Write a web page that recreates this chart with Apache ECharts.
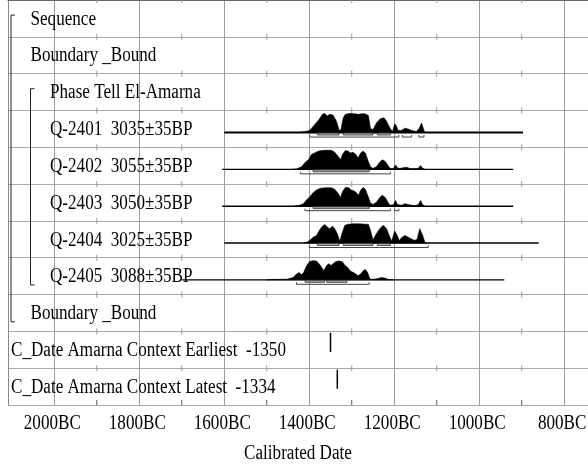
<!DOCTYPE html>
<html><head><meta charset="utf-8">
<script src="https://cdn.jsdelivr.net/npm/echarts@6/dist/echarts.min.js"></script>
<style>html,body{margin:0;padding:0;background:#fff}#c{width:588px;height:472px}</style>
</head><body><div id="c"></div>
<script>
// ---- data ----
const rowLabels = [
  'Sequence',
  'Boundary _Bound',
  'Phase Tell El-Amarna',
  'Q-2401  3035\u00b135BP',
  'Q-2402  3055\u00b135BP',
  'Q-2403  3050\u00b135BP',
  'Q-2404  3025\u00b135BP',
  'Q-2405  3088\u00b135BP',
  'Boundary _Bound',
  'C_Date Amarna Context Earliest  -1350',
  'C_Date Amarna Context Latest  -1334'
];
const rowDepth = [1, 1, 2, 2, 2, 2, 2, 2, 1, 0, 0];
const groupFirstRow = [0, 2];   // Sequence, Phase
const groupLastRow  = [8, 7];

const tickYears  = [-2000, -1800, -1600, -1400, -1200, -1000, -800];
const minorYears = [-1900, -1700, -1500, -1300, -1100, -900];
const axisTitle = 'Calibrated Date';

const sampleRows = [3, 4, 5, 6, 7];
const lineStart = [-1600, -1605, -1605, -1600, -1700];
const lineEnd   = [-897, -920, -920, -860, -941];

const q2401 = [[-1430,0],[-1418,0.03],[-1410,0.05],[-1399,0.11],[-1391,0.32],[-1377,0.68],[-1369,0.95],[-1363,1.0],[-1358,0.86],[-1352,0.95],[-1344,0.91],[-1336,0.59],[-1330,0.14],[-1326,0.11],[-1320,0.77],[-1315,0.95],[-1304,1.0],[-1293,0.98],[-1285,0.95],[-1277,0.98],[-1269,0.98],[-1261,0.89],[-1256,0.23],[-1250,0.14],[-1242,0.5],[-1232,0.73],[-1224,0.77],[-1218,0.59],[-1210,0.23],[-1204,0.05],[-1199,0.46],[-1195,0.36],[-1191,0.11],[-1183,0.11],[-1175,0.23],[-1167,0.18],[-1159,0.11],[-1148,0.05],[-1141,0.23],[-1136,0.5],[-1130,0.11],[-1128,0]];
const q2402 = [[-1440,0],[-1430,0.02],[-1418,0.14],[-1410,0.36],[-1402,0.5],[-1395,0.77],[-1387,0.86],[-1379,0.95],[-1371,0.98],[-1359,1.0],[-1348,1.0],[-1340,0.89],[-1332,0.68],[-1326,0.5],[-1322,0.77],[-1315,0.98],[-1308,0.95],[-1303,0.86],[-1297,0.89],[-1290,0.77],[-1285,0.59],[-1279,0.86],[-1273,0.95],[-1268,0.86],[-1261,0.41],[-1256,0.14],[-1250,0.05],[-1242,0.14],[-1234,0.38],[-1228,0.5],[-1221,0.41],[-1214,0.18],[-1209,0.05],[-1202,0.04],[-1197,0.23],[-1193,0.09],[-1187,0.04],[-1179,0.09],[-1171,0.11],[-1162,0.04],[-1152,0.04],[-1144,0.05],[-1138,0.2],[-1133,0.05],[-1128,0]];
const q2403 = [[-1436,0],[-1426,0.02],[-1414,0.13],[-1406,0.34],[-1399,0.48],[-1391,0.7],[-1383,0.84],[-1375,0.93],[-1363,0.96],[-1348,0.96],[-1340,0.88],[-1332,0.66],[-1326,0.45],[-1322,0.75],[-1315,0.98],[-1307,0.96],[-1301,0.84],[-1295,0.8],[-1289,0.7],[-1284,0.57],[-1279,0.84],[-1273,0.98],[-1268,0.88],[-1261,0.48],[-1256,0.16],[-1250,0.09],[-1242,0.21],[-1234,0.45],[-1228,0.57],[-1221,0.45],[-1214,0.16],[-1209,0.05],[-1202,0.07],[-1197,0.3],[-1193,0.09],[-1183,0.05],[-1175,0.13],[-1165,0.07],[-1152,0.02],[-1144,0.07],[-1138,0.3],[-1133,0.07],[-1128,0]];
const q2404 = [[-1412,0],[-1406,0.04],[-1399,0.13],[-1391,0.3],[-1383,0.39],[-1375,0.7],[-1369,0.88],[-1363,0.96],[-1358,0.84],[-1352,0.75],[-1345,0.88],[-1340,0.75],[-1334,0.48],[-1328,0.09],[-1322,0.57],[-1316,0.93],[-1308,0.98],[-1297,1.0],[-1281,1.0],[-1269,0.98],[-1261,0.98],[-1256,0.66],[-1250,0.16],[-1242,0.48],[-1234,0.75],[-1226,0.93],[-1218,0.75],[-1212,0.39],[-1206,0.09],[-1199,0.63],[-1193,0.39],[-1188,0.13],[-1183,0.27],[-1175,0.39],[-1167,0.3],[-1159,0.21],[-1152,0.13],[-1146,0.21],[-1140,0.75],[-1133,0.39],[-1128,0.04],[-1124,0]];
const q2405 = [[-1500,0],[-1489,0.02],[-1453,0.03],[-1438,0.12],[-1430,0.3],[-1424,0.38],[-1418,0.27],[-1413,0.39],[-1406,0.75],[-1399,0.96],[-1391,1.0],[-1383,0.98],[-1377,0.84],[-1371,0.66],[-1366,0.48],[-1359,0.75],[-1354,0.84],[-1349,0.75],[-1344,0.84],[-1337,0.96],[-1330,0.98],[-1322,0.95],[-1316,0.75],[-1310,0.66],[-1303,0.45],[-1297,0.39],[-1290,0.3],[-1285,0.21],[-1279,0.3],[-1273,0.48],[-1268,0.54],[-1263,0.39],[-1257,0.04],[-1250,0.02],[-1238,0.07],[-1230,0.12],[-1222,0.09],[-1214,0.02],[-1202,0]];

const range68 = [
  [[-1381,-1330],[-1320,-1250],[-1240,-1209]],
  [[-1391,-1259]],
  [[-1391,-1259]],
  [[-1381,-1330],[-1320,-1250],[-1240,-1209]],
  [[-1410,-1364],[-1359,-1311]]
];
const range95 = [
  [[-1399,-1189],[-1181,-1159],[-1142,-1130]],
  [[-1421,-1209]],
  [[-1410,-1209],[-1199,-1189]],
  [[-1400,-1120]],
  [[-1430,-1259]]
];
const cDateRows = [9, 10];
const cDates = [-1350, -1334];

// ---- chart ----
const X_MIN = -2109, X_MAX = -744;
const dists = [q2401, q2402, q2403, q2404, q2405];
const lineWidths = [2, 1.2, 1.5, 1.5, 1.2];
const FONT = '"Liberation Serif", "Times New Roman", serif';
const FS = 20, SX = 0.855;

const chart = echarts.init(document.getElementById('c'), null, {renderer: 'canvas'});

const minorData = [];
for (let r = 0; r <= 11; r++) minorYears.forEach(y => minorData.push([y, r]));

const option = {
  animation: false,
  backgroundColor: '#fff',
  grid: {left: 8, right: 0, top: 0, bottom: 67},
  xAxis: {
    type: 'value', min: X_MIN, max: X_MAX,
    axisLine: {show: true, lineStyle: {color: '#666', width: 1}},
    axisTick: {show: false, customValues: tickYears},
    axisLabel: {show: false, customValues: tickYears},
    splitLine: {show: true, lineStyle: {color: '#9c9c9c', width: 1}}
  },
  yAxis: {
    type: 'value', min: 0, max: 11, interval: 1, inverse: true,
    axisLine: {show: true, lineStyle: {color: '#888', width: 1}},
    axisTick: {show: false}, axisLabel: {show: false},
    splitLine: {show: true, lineStyle: {color: '#a8a8a8', width: 1}}
  },
  series: [
    { // minor ticks on row lines
      type: 'custom', silent: true,
      data: minorData,
      renderItem(params, api) {
        const p = api.coord([api.value(0), api.value(1)]);
        const bottom = api.value(1) === 11;
        return {type: 'line', shape: {x1: p[0], y1: bottom ? p[1] - 5 : p[1] - 3, x2: p[0], y2: bottom ? p[1] : p[1] + 3},
          style: {stroke: bottom ? '#555' : '#999', lineWidth: 1}};
      }
    },
    { // axis tick labels + title (condensed serif)
      type: 'custom', silent: true, clip: false,
      data: tickYears.map(y => [y, 11]),
      renderItem(params, api) {
        const p = api.coord([api.value(0), 11]);
        const children = [{type: 'text', x: p[0] - 2, y: p[1] + 19, scaleX: SX,
          style: {text: (-api.value(0)) + 'BC', fontFamily: FONT, fontSize: FS, fill: '#000', align: 'center', verticalAlign: 'middle'}}];
        if (params.dataIndex === 0) {
          const cs = params.coordSys;
          children.push({type: 'text', x: cs.x + cs.width / 2, y: p[1] + 49, scaleX: SX,
            style: {text: axisTitle, fontFamily: FONT, fontSize: FS, fill: '#000', align: 'center', verticalAlign: 'middle'}});
        }
        return {type: 'group', children};
      }
    },
    { // row labels
      type: 'custom', silent: true,
      data: rowLabels.map((t, i) => [X_MIN, i]),
      renderItem(params, api) {
        const i = params.dataIndex;
        const y = api.coord([X_MIN, api.value(1) + 0.5])[1];
        return {type: 'text', x: params.coordSys.x + 3 + rowDepth[i] * 19.5, y: y + 1, scaleX: SX,
          style: {text: rowLabels[i], fontFamily: FONT, fontSize: FS, fill: '#000', align: 'left', verticalAlign: 'middle'}};
      }
    },
    { // brackets
      type: 'custom', silent: true,
      data: groupFirstRow.map((r, g) => [r, groupLastRow[g]]),
      renderItem(params, api) {
        const first = api.value(0), last = api.value(1);
        const x = params.coordSys.x + 3 + (rowDepth[first] - 1) * 19.5;
        const y1 = api.coord([X_MIN, first + 0.41])[1];
        const y2 = api.coord([X_MIN, last + 0.74])[1];
        return {type: 'polyline', shape: {points: [[x + 4, y1], [x, y1], [x, y2], [x + 4, y2]]},
          style: {stroke: '#222', lineWidth: 1, fill: null}};
      }
    },
    { // baselines
      type: 'custom', silent: true,
      data: sampleRows.map((r, k) => [lineStart[k], r, lineEnd[k]]),
      renderItem(params, api) {
        const k = params.dataIndex;
        const a = api.coord([api.value(0), api.value(1) + 0.6]);
        const b = api.coord([api.value(2), api.value(1) + 0.6]);
        return {type: 'line', shape: {x1: a[0], y1: a[1], x2: b[0], y2: b[1]},
          style: {stroke: '#000', lineWidth: lineWidths[k]}};
      }
    },
    { // distributions
      type: 'custom', silent: true,
      data: sampleRows.map((r, k) => [dists[k][0][0], r]),
      renderItem(params, api) {
        const k = params.dataIndex;
        const r = api.value(1);
        const pts = dists[k].map(d => api.coord([d[0], r + 0.6 - 0.52 * d[1]]));
        return {type: 'polygon', shape: {points: pts}, style: {fill: '#000', stroke: '#000', lineWidth: 0.6}};
      }
    },
    { // 68% ranges
      type: 'custom', silent: true,
      data: sampleRows.map((r, k) => [range68[k][0][0], r]),
      renderItem(params, api) {
        const k = params.dataIndex;
        const r = api.value(1);
        const children = range68[k].map(rg => {
          const a = api.coord([rg[0], r + 0.6]);
          const b = api.coord([rg[1], r + 0.6]);
          return {type: 'rect', shape: {x: a[0], y: a[1] + 0.5, width: b[0] - a[0], height: 2},
            style: {fill: '#aaa', stroke: '#333', lineWidth: 0.8}};
        });
        return {type: 'group', children};
      }
    },
    { // 95% ranges
      type: 'custom', silent: true,
      data: sampleRows.map((r, k) => [range95[k][0][0], r]),
      renderItem(params, api) {
        const k = params.dataIndex;
        const r = api.value(1);
        const children = range95[k].map(rg => {
          const a = api.coord([rg[0], r + 0.6]);
          const b = api.coord([rg[1], r + 0.6]);
          const yl = a[1] + 4.5;
          return {type: 'polyline', shape: {points: [[a[0], yl - 2], [a[0], yl], [b[0], yl], [b[0], yl - 2]]},
            style: {stroke: '#444', lineWidth: 1, fill: null}};
        });
        return {type: 'group', children};
      }
    },
    { // C_Date markers
      type: 'custom', silent: true,
      data: cDateRows.map((r, k) => [cDates[k], r]),
      renderItem(params, api) {
        const a = api.coord([api.value(0), api.value(1) + 0.04]);
        const b = api.coord([api.value(0), api.value(1) + 0.56]);
        return {type: 'line', shape: {x1: a[0], y1: a[1], x2: b[0], y2: b[1]}, style: {stroke: '#000', lineWidth: 1.5}};
      }
    }
  ]
};
chart.setOption(option);
</script>
</body></html>
